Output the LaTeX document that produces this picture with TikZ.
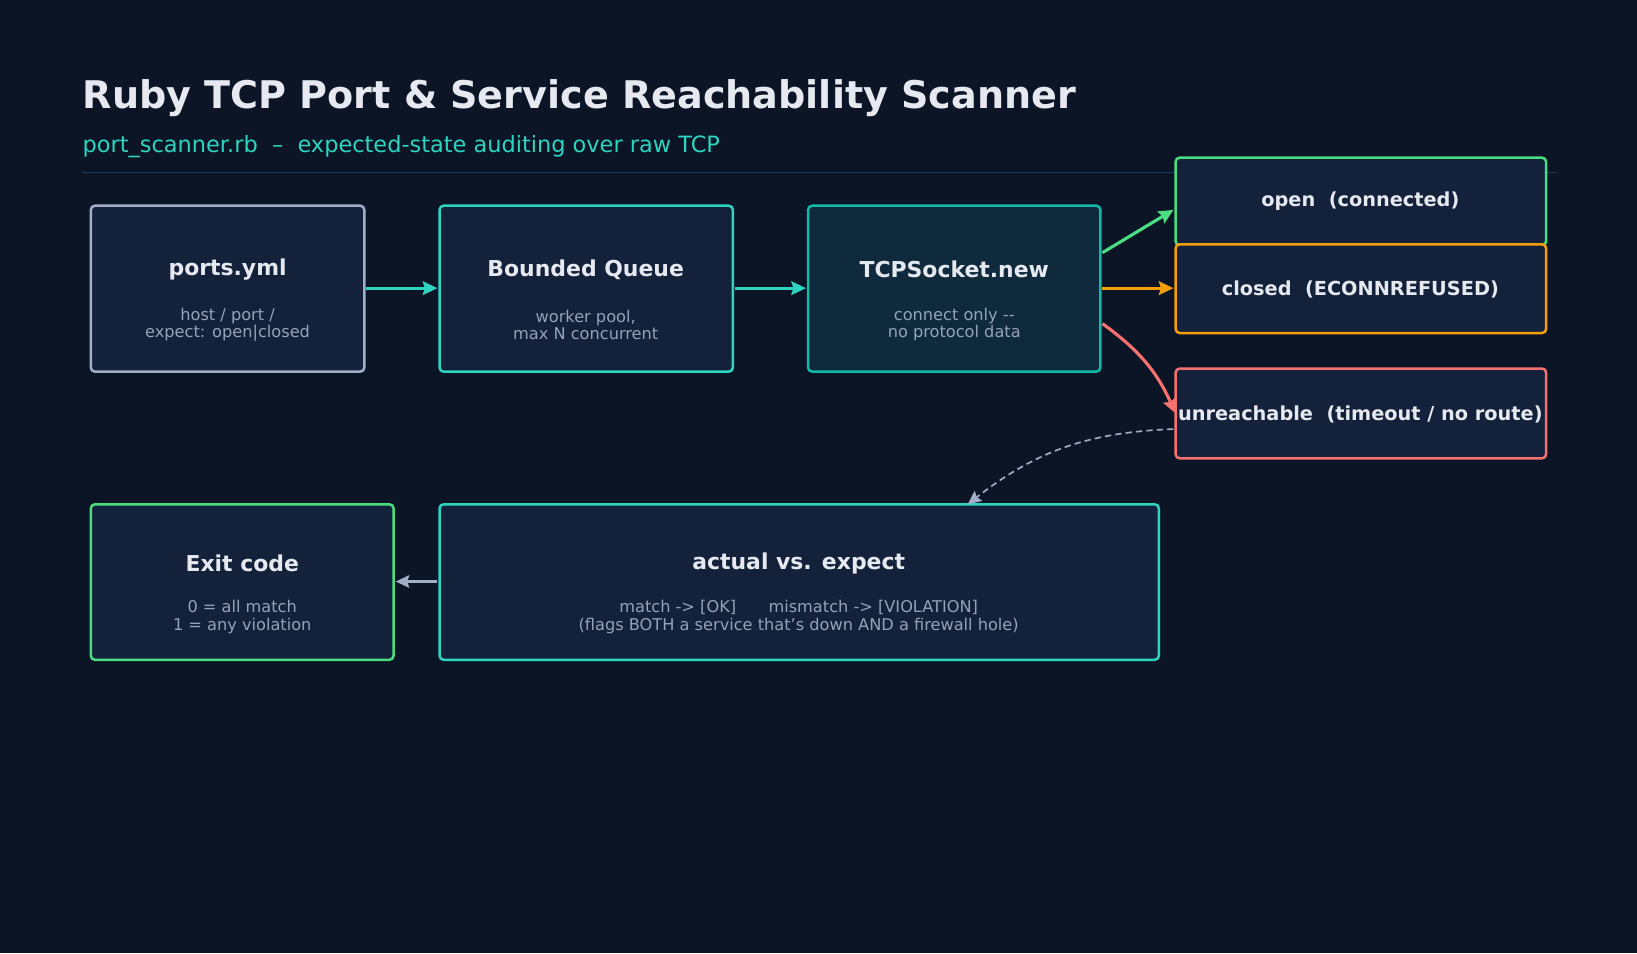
\documentclass[tikz,border=0pt]{standalone}
\usepackage{fontspec}
\setmainfont{DejaVu Sans}
\usetikzlibrary{arrows.meta}
\definecolor{bg}{HTML}{0B1526}
\definecolor{boxfill}{HTML}{13213A}
\definecolor{tcpfill}{HTML}{0F2A3D}
\definecolor{txt}{HTML}{E6EAF0}
\definecolor{sub}{HTML}{94A3B8}
\definecolor{teal}{HTML}{2DD4BF}
\definecolor{dteal}{HTML}{14B8A6}
\definecolor{grayb}{HTML}{A0AEC8}
\definecolor{grn}{HTML}{4ADE80}
\definecolor{org}{HTML}{F59E0B}
\definecolor{rd}{HTML}{F87171}
\definecolor{sep}{HTML}{1E3A5F}
\tikzset{
 box/.style={line width=2.4pt, rounded corners=4pt, fill=boxfill},
 ttl/.style={text=txt, font=\fontsize{21}{24}\selectfont\bfseries},
 stxt/.style={text=sub, font=\fontsize{15.5}{16.5}\selectfont, align=center},
 otxt/.style={text=txt, font=\fontsize{18.5}{22}\selectfont\bfseries},
 arr/.style={line width=3pt, -{Stealth[length=14pt,width=13pt,inset=2pt]}},
}
\begin{document}
\begin{tikzpicture}[x=1pt,y=-1pt]
\fill[bg] (0,0) rectangle (1568,913);
\useasboundingbox (0,0) rectangle (1568,913);
\node[anchor=west, text=txt, font=\fontsize{36.5}{40}\selectfont\bfseries, inner sep=0pt] (title) at (79,94) {Ruby TCP Port \& Service Reachability Scanner};
\node[anchor=west, text=teal, font=\fontsize{21.5}{24}\selectfont, inner sep=0pt] (subt) at (79,140) {port\_scanner.rb \ – \ expected-state auditing over raw TCP};
\draw[sep, line width=1pt] (79,165) -- (1490,165);

\draw[box, draw=grayb] (87,197) rectangle (349,356);
\node[ttl] (pt) at (218,258) {ports.yml};
\node[stxt] (ps) at (218,311) {host / port /\\expect: open|closed};

\draw[box, draw=teal] (421,197) rectangle (702,356);
\node[ttl] (qt) at (561,258) {Bounded Queue};
\node[stxt] (qs) at (561,311) {worker pool,\\max N concurrent};

\draw[box, draw=dteal, fill=tcpfill] (774,197) rectangle (1054,356);
\node[ttl] (tt) at (914,258) {TCPSocket.new};
\node[stxt] (ts) at (914,311) {connect only {-}{-}\\no protocol data};

\draw[box, draw=grn] (1126,151) rectangle (1481,235);
\node[otxt] (o) at (1303,193) {open\ \ (connected)};
\draw[box, draw=org] (1126,234) rectangle (1481,319);
\node[otxt] (c) at (1303,277) {closed\ \ (ECONNREFUSED)};
\draw[box, draw=rd] (1126,353) rectangle (1481,439);
\node[otxt] (u) at (1303,397) {unreachable\ \ (timeout / no route)};

\draw[box, draw=grn] (87,483) rectangle (377,632);
\node[ttl] (et) at (232,540) {Exit code};
\node[stxt] (es) at (232,591) {0 = all match\\1 = any violation};

\draw[box, draw=teal] (421,483) rectangle (1110,632);
\node[ttl] (at) at (765,540) {actual vs. expect};
\node[stxt] (as) at (765,591) {match {-}> [OK]\qquad mismatch {-}> [VIOLATION]\\(flags BOTH a service that{\char"27}s down AND a firewall hole)};

\coordinate (a1) at (351,276); \coordinate (a2) at (419,276);
\coordinate (b1) at (704,276); \coordinate (b2) at (772,276);
\coordinate (c1) at (1056,276); \coordinate (c2) at (1124,276);
\coordinate (g1) at (1056,242); \coordinate (g2) at (1124,201);
\coordinate (r1) at (1056,310); \coordinate (r2) at (1126,396);
\coordinate (d1) at (1124,411); \coordinate (d2) at (927,483);
\coordinate (e1) at (419,557); \coordinate (e2) at (379,557);
\draw[arr, teal] (a1) -- (a2);
\draw[arr, teal] (b1) -- (b2);
\draw[arr, org] (c1) -- (c2);
\draw[arr, grn] (g1) -- (g2);
\draw[arr, rd] (r1) to[bend left=15] (r2);
\draw[grayb, line width=1.6pt, dash pattern=on 6pt off 4pt, -{Stealth[length=13pt,width=12pt,inset=2pt]}] (d1) to[bend right=18] (d2);
\draw[grayb, line width=2pt, -{Stealth[length=13pt,width=12pt,inset=2pt]}] (e1) -- (e2);
\end{tikzpicture}
\end{document}
